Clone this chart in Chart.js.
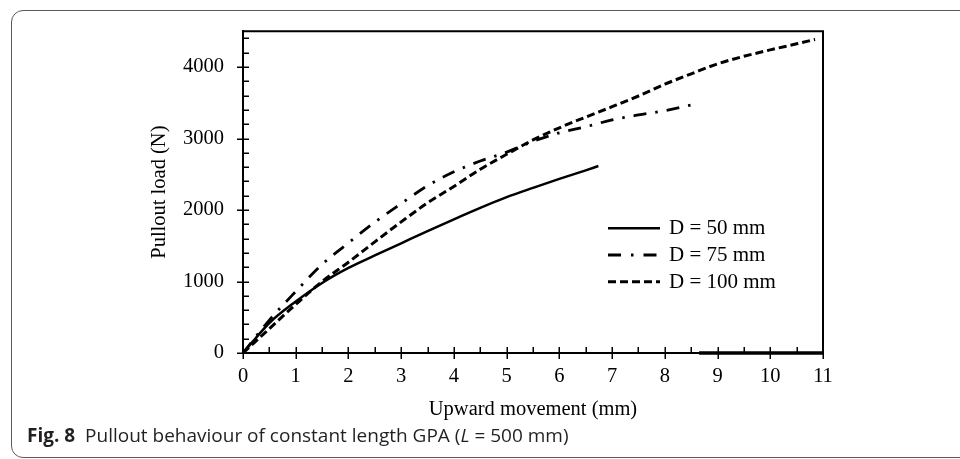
<!DOCTYPE html>
<html>
<head>
<meta charset="utf-8">
<script src="https://cdn.jsdelivr.net/npm/chart.js@4.4.0/dist/chart.umd.min.js"></script>
<style>
  html, body { margin: 0; padding: 0; background: #fff; }
  body { width: 960px; height: 459px; overflow: hidden; position: relative; }
  #box { position: absolute; left: 11px; top: 10px; width: 1000px; height: 446px;
         border: 1px solid #5a5a5a; border-radius: 12px; }
  #pulloutChart { position: absolute; left: 0; top: 0; }
  #caption { position: absolute; left: 27px; top: 425px; line-height: 20px;
             font-family: "Open Sans", sans-serif; font-size: 19px; color: #231f20; white-space: nowrap; }
  #caption b { font-weight: 700; }
</style>
</head>
<body>
<div id="box"></div>
<canvas id="pulloutChart" width="960" height="459"></canvas>
<div id="caption"><b>Fig. 8</b>&nbsp; Pullout behaviour of constant length GPA (<i>L</i> = 500 mm)</div>

<script>
// DATA ######################################################################

var movement50 = [0, 0.25, 0.5, 1, 1.5, 2, 2.5, 3, 3.5, 4, 4.5, 5, 5.5, 6, 6.5, 6.74];
var load50     = [0, 215, 420, 720, 980, 1190, 1365, 1535, 1705, 1870, 2030, 2180, 2310, 2435, 2555, 2615];

var movement75 = [0, 0.5, 1, 1.5, 2, 2.5, 3, 3.5, 4, 4.5, 5, 5.5, 6, 6.5, 7, 7.5, 8, 8.57];
var load75     = [0, 460, 860, 1240, 1540, 1830, 2090, 2340, 2535, 2685, 2810, 2960, 3080, 3165, 3260, 3330, 3390, 3480];

var movement100 = [0, 0.5, 1, 1.5, 2, 2.5, 3, 3.5, 4, 4.5, 5, 5.5, 6, 6.5, 7, 7.5, 8, 8.5, 9, 9.5, 10, 10.5, 10.85];
var load100     = [0, 340, 680, 1000, 1270, 1555, 1834, 2100, 2330, 2570, 2780, 2980, 3150, 3300, 3445, 3595, 3760, 3905, 4045, 4150, 4240, 4325, 4386];

// the thicker bit of the x axis on the right of the original figure
var movementBase = [8.65, 11];
var loadBase     = [0, 0];

var seriesLabels = ["D = 50 mm", "D = 75 mm", "D = 100 mm"];
var xTicks = [0, 1, 2, 3, 4, 5, 6, 7, 8, 9, 10, 11];
var yTicks = [0, 1000, 2000, 3000, 4000];

var serif = "'Liberation Serif', 'Times New Roman', serif";

function toPoints(xs, ys) {
    return xs.map(function (x, i) { return {x: x, y: ys[i]}; });
}

// PLUGINS ###################################################################

// top/right frame plus the small tick marks (major ones cross the axis)
var frameTicks = {
    id: 'frameTicks',
    afterDraw: function (chart) {
        var ctx = chart.ctx;
        var area = chart.chartArea;
        var xs = chart.scales.x;
        var ys = chart.scales.y;
        ctx.save();
        ctx.strokeStyle = '#000';
        ctx.lineWidth = 2;
        ctx.beginPath();
        ctx.moveTo(area.left, area.top);
        ctx.lineTo(area.right, area.top);
        ctx.lineTo(area.right, area.bottom);
        ctx.stroke();

        ctx.lineWidth = 1.5;
        ctx.beginPath();
        var v, p;
        for (v = 0; v <= 11.001; v += 0.5) {
            p = Math.round(xs.getPixelForValue(v)) + 0.25;
            var major = Math.abs(v - Math.round(v)) < 0.01;
            ctx.moveTo(p, area.bottom - 6);
            ctx.lineTo(p, area.bottom + (major ? 6 : 0));
        }
        for (v = 0; v <= 4500; v += 200) {
            p = Math.round(ys.getPixelForValue(v)) + 0.25;
            var majorY = v % 1000 === 0;
            ctx.moveTo(area.left + 6, p);
            ctx.lineTo(area.left - (majorY ? 6 : 0), p);
        }
        ctx.stroke();
        ctx.restore();
    }
};

// legend drawn inside the plot, using each dataset's own line style
var plotLegend = {
    id: 'plotLegend',
    afterDraw: function (chart) {
        var ctx = chart.ctx;
        var area = chart.chartArea;
        var x0 = area.left + 365;
        var y0 = area.top + 197;
        var rowGap = 26.7;
        ctx.save();
        ctx.font = "21px " + serif;
        ctx.textBaseline = 'middle';
        ctx.textAlign = 'left';
        ctx.fillStyle = '#000';
        var row = 0;
        chart.data.datasets.forEach(function (ds) {
            if (ds.hideInLegend) {
                return;
            }
            var y = y0 + row * rowGap;
            ctx.strokeStyle = ds.borderColor;
            ctx.lineWidth = ds.borderWidth;
            ctx.lineCap = 'butt';
            ctx.setLineDash(ds.legendDash || ds.borderDash || []);
            ctx.beginPath();
            ctx.moveTo(x0, y);
            ctx.lineTo(x0 + 52, y);
            ctx.stroke();
            ctx.setLineDash([]);
            ctx.fillText(ds.label, x0 + 61, y + 0.5);
            row++;
        });
        ctx.restore();
    }
};

// CHART #####################################################################

var ctx_pullout = document.getElementById('pulloutChart');

var data = {
    datasets: [
        {
            label: seriesLabels[0],
            data: toPoints(movement50, load50),
            borderColor: '#000',
            borderWidth: 2.5,
            borderDash: []
        },
        {
            label: seriesLabels[1],
            data: toPoints(movement75, load75),
            borderColor: '#000',
            borderWidth: 2.8,
            borderDash: [13, 9, 2.5, 9],
            legendDash: [13, 10, 2.5, 10]
        },
        {
            label: seriesLabels[2],
            data: toPoints(movement100, load100),
            borderColor: '#000',
            borderWidth: 3,
            borderDash: [8, 4]
        },
        {
            label: 'base',
            hideInLegend: true,
            data: toPoints(movementBase, loadBase),
            borderColor: '#000',
            borderWidth: 3.5,
            borderDash: [],
            clip: false,
            cubicInterpolationMode: 'default'
        }
    ]
};

var myPulloutChart = new Chart(ctx_pullout, {
    type: 'scatter',
    data: data,
    plugins: [frameTicks, plotLegend],
    options: {
        responsive: false,
        animation: false,
        showLine: true,
        layout: {
            padding: {top: 27, right: 137, bottom: 0, left: 0}
        },
        elements: {
            point: {radius: 0, hoverRadius: 0},
            line: {cubicInterpolationMode: 'monotone', borderCapStyle: 'butt', fill: false}
        },
        plugins: {
            legend: {display: false},
            tooltip: {enabled: false}
        },
        scales: {
            x: {
                type: 'linear',
                min: 0,
                max: 11,
                afterBuildTicks: function (scale) {
                    scale.ticks = xTicks.map(function (v) { return {value: v}; });
                },
                afterFit: function (scale) {
                    scale.height = 106;
                },
                grid: {display: false, drawTicks: false},
                border: {display: true, color: '#000', width: 2},
                ticks: {
                    padding: 11,
                    color: '#000',
                    maxRotation: 0,
                    font: {family: serif, size: 20.5},
                    callback: function (value) { return String(value); }
                },
                title: {
                    display: true,
                    text: 'Upward movement (mm)',
                    color: '#000',
                    font: {family: serif, size: 20.5},
                    padding: {top: 0, bottom: 37}
                }
            },
            y: {
                type: 'linear',
                min: 0,
                max: 4500,
                afterBuildTicks: function (scale) {
                    scale.ticks = yTicks.map(function (v) { return {value: v}; });
                },
                afterFit: function (scale) {
                    scale.width = 243;
                },
                grid: {display: false, drawTicks: false},
                border: {display: true, color: '#000', width: 2},
                ticks: {
                    padding: 19,
                    color: '#000',
                    font: {family: serif, size: 20.5},
                    callback: function (value) { return String(value); }
                },
                title: {
                    display: true,
                    text: 'Pullout load (N)',
                    color: '#000',
                    font: {family: serif, size: 20.5},
                    padding: {top: 147, bottom: 0}
                }
            }
        }
    }
});
</script>
</body>
</html>
